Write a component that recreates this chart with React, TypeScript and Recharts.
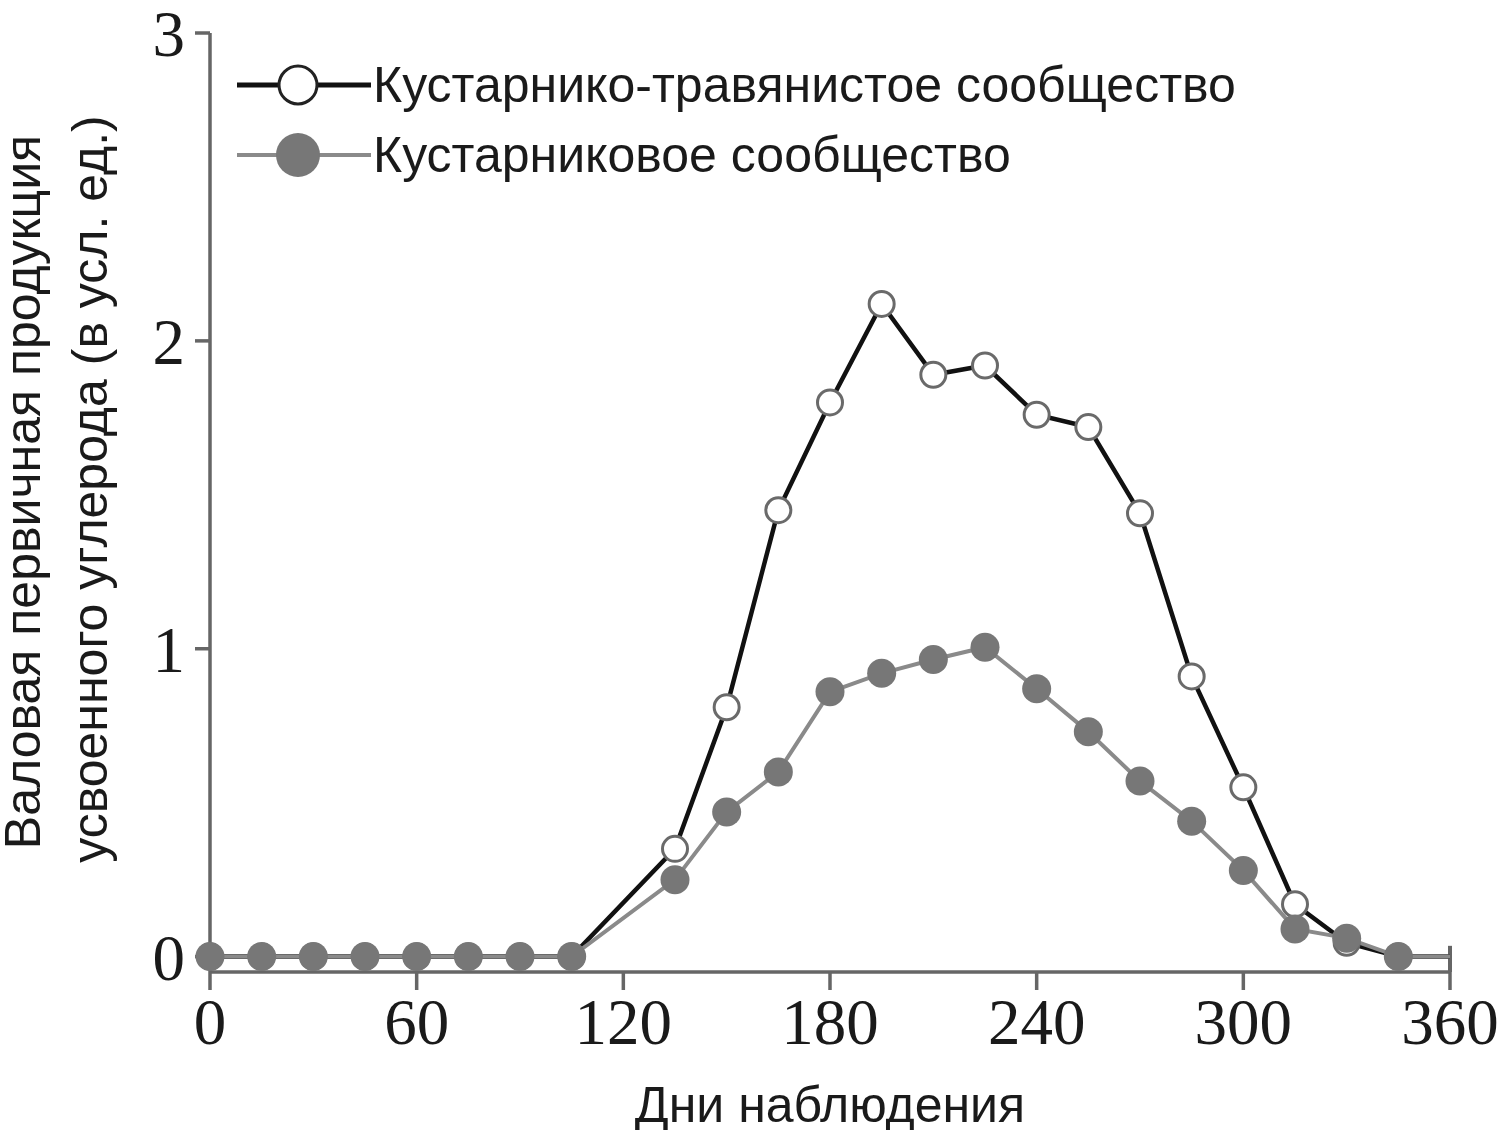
import React from "react";
import { LineChart, Line, XAxis, YAxis, ReferenceLine } from "recharts";

const days = [0, 15, 30, 45, 60, 75, 90, 105, 135, 150, 165, 180, 195, 210, 225, 240, 255, 270, 285, 300, 315, 330, 345, 360];
const shrubGrass = [0, 0, 0, 0, 0, 0, 0, 0, 0.35, 0.81, 1.45, 1.8, 2.12, 1.89, 1.92, 1.76, 1.72, 1.44, 0.91, 0.55, 0.17, 0.045, 0, 0];
const shrub = [0, 0, 0, 0, 0, 0, 0, 0, 0.25, 0.47, 0.6, 0.86, 0.92, 0.965, 1.005, 0.87, 0.73, 0.57, 0.44, 0.28, 0.09, 0.06, 0, 0];
const xTicks = [0, 60, 120, 180, 240, 300, 360];
const yTicks = [0, 1, 2, 3];
const seriesNames = ["Кустарнико-травянистое сообщество", "Кустарниковое сообщество"];
const xTitle = "Дни наблюдения";
const yTitle = ["Валовая первичная продукция", "усвоенного углерода (в усл. ед.)"];

const data = days.map((d, i) => ({ day: d, a: shrubGrass[i], b: shrub[i] }));

const AXIS = "#666";
const GRAY_LINE = "#8a8a8a";
const GRAY_DOT = "#777";
const SANS = "'Liberation Sans', Arial, sans-serif";
const SERIF = "'Liberation Serif', 'Times New Roman', serif";
const TEXT = "#1a1a1a";

const OpenDot = (p: any) => {
  if (p.payload && p.payload.day === 360) return <g key={p.key} />;
  return <circle key={p.key} cx={p.cx} cy={p.cy} r={12.5} fill="#fff" stroke="#6a6a6a" strokeWidth={3} />;
};
const FilledDot = (p: any) => {
  if (p.payload && p.payload.day === 360) return <g key={p.key} />;
  return <circle key={p.key} cx={p.cx} cy={p.cy} r={14.5} fill={GRAY_DOT} stroke="none" />;
};

const LegendOverlay = () => (
  <div style={{ position: "absolute", left: 237, top: 50, fontFamily: SANS, fontSize: 50, color: TEXT, lineHeight: "70px" }}>
    <div style={{ display: "flex", alignItems: "center", height: 70 }}>
      <svg width={136} height={70}>
        <line x1={0} y1={35} x2={134} y2={35} stroke="#111" strokeWidth={5} />
        <circle cx={61} cy={35} r={19} fill="#fff" stroke="#222" strokeWidth={3} />
      </svg>
      <span>{seriesNames[0]}</span>
    </div>
    <div style={{ display: "flex", alignItems: "center", height: 70 }}>
      <svg width={136} height={70}>
        <line x1={0} y1={35} x2={134} y2={35} stroke={GRAY_LINE} strokeWidth={4} />
        <circle cx={61} cy={35} r={22} fill={GRAY_DOT} />
      </svg>
      <span>{seriesNames[1]}</span>
    </div>
  </div>
);

const YLabel = () => (
  <g>
    <text transform="translate(40,492) rotate(-90)" textAnchor="middle" fontFamily={SANS} fontSize={50} fill={TEXT}>
      {yTitle[0]}
    </text>
    <text transform="translate(107,489) rotate(-90)" textAnchor="middle" fontFamily={SANS} fontSize={50} fill={TEXT}>
      {yTitle[1]}
    </text>
  </g>
);

export default function App() {
  return (
    <div style={{ position: "absolute", left: 0, top: 0, width: 1500, height: 1130, background: "#fff" }}>
      <LineChart width={1500} height={1130} data={data} margin={{ top: 33, right: 50, bottom: 0, left: 0 }}>
        <XAxis
          dataKey="day"
          type="number"
          domain={[0, 360]}
          ticks={xTicks}
          interval={0}
          height={158}
          stroke={AXIS}
          strokeWidth={3.5}
          tickSize={18}
          tickMargin={8}
          tick={{ fontFamily: SERIF, fontSize: 65, fill: TEXT }}
          tickLine={{ stroke: AXIS, strokeWidth: 3.5 }}
          label={{ value: xTitle, position: "insideBottom", offset: 8, fontFamily: SANS, fontSize: 50, fill: TEXT }}
        />
        <YAxis
          type="number"
          domain={[-0.05, 3]}
          ticks={yTicks}
          interval={0}
          width={210}
          stroke={AXIS}
          strokeWidth={3.5}
          tickSize={15}
          tickMargin={10}
          tick={{ fontFamily: SERIF, fontSize: 65, fill: TEXT }}
          tickLine={{ stroke: AXIS, strokeWidth: 3.5 }}
          label={<YLabel />}
        />
        <ReferenceLine
          segment={[{ x: 360, y: -0.05 }, { x: 360, y: 0.035 }]}
          stroke={AXIS}
          strokeWidth={4}
          ifOverflow="visible"
        />
        <Line
          dataKey="a"
          name={seriesNames[0]}
          stroke="#111"
          strokeWidth={4.5}
          dot={<OpenDot />}
          activeDot={false}
          isAnimationActive={false}
        />
        <Line
          dataKey="b"
          name={seriesNames[1]}
          stroke={GRAY_LINE}
          strokeWidth={4}
          dot={<FilledDot />}
          activeDot={false}
          isAnimationActive={false}
        />
      </LineChart>
      <LegendOverlay />
    </div>
  );
}
